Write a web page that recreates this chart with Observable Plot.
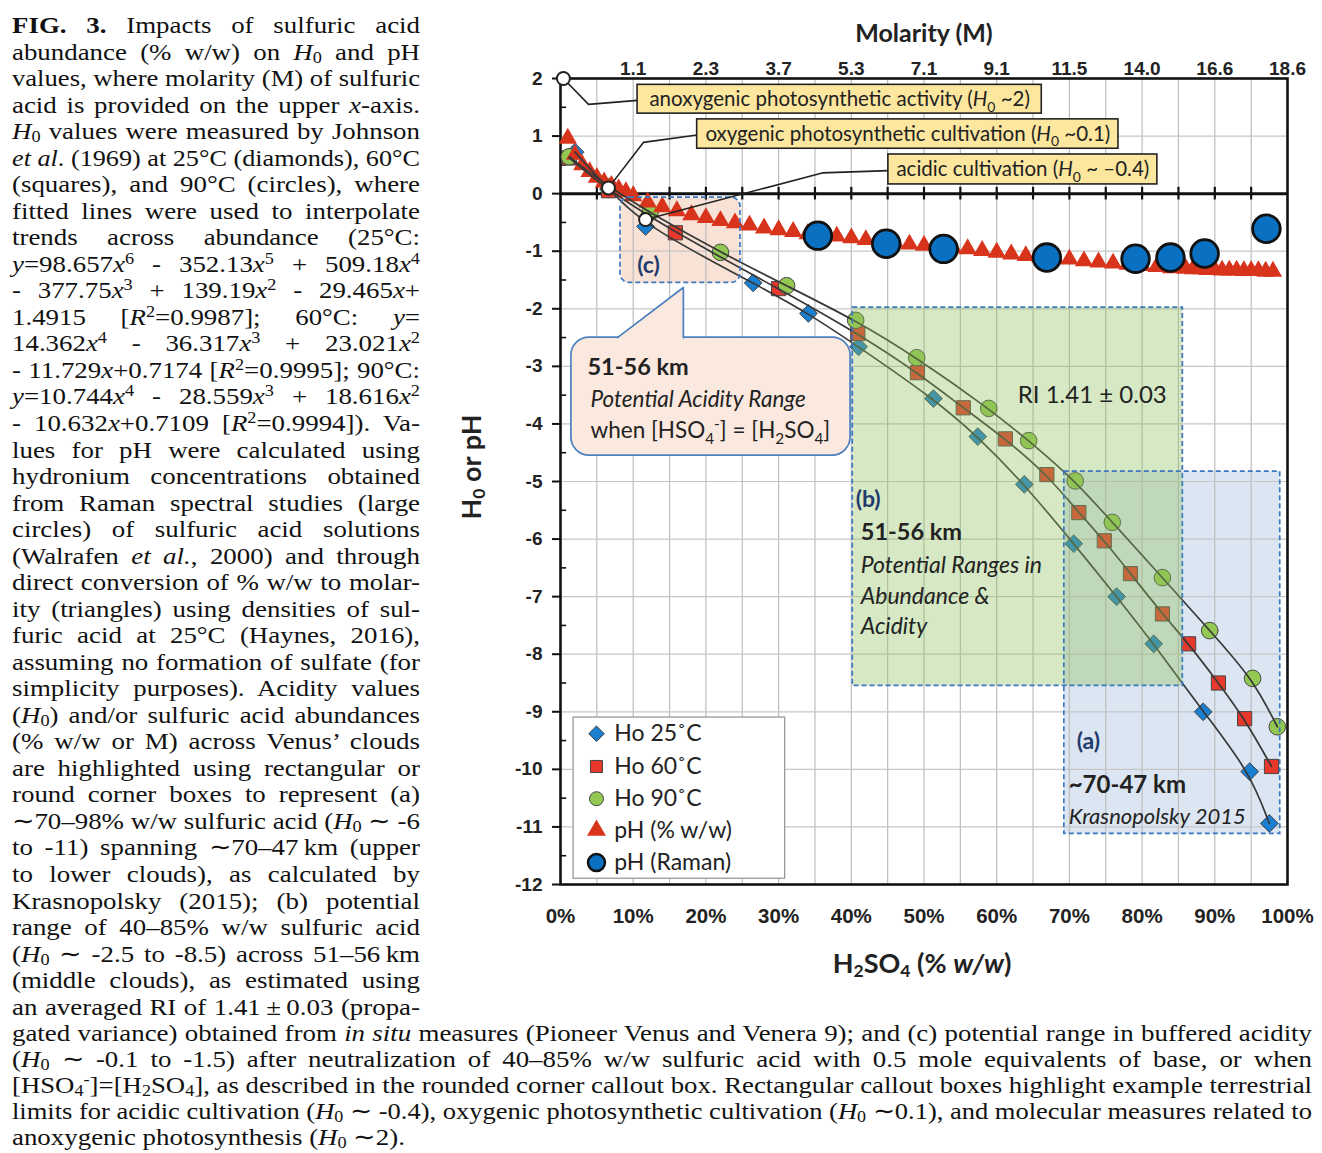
<!DOCTYPE html>
<html><head><meta charset="utf-8">
<script src="https://cdn.jsdelivr.net/npm/d3@7"></script>
<script src="https://cdn.jsdelivr.net/npm/@observablehq/plot@0.6"></script>
<style>
body{margin:0;background:#fff;}
#page{position:relative;width:1322px;height:1153px;background:#fff;}
.cap{position:absolute;left:12px;font-family:"Liberation Serif","Times New Roman",serif;font-size:24px;color:#111;}
.cap .ln{height:26.54px;line-height:26.54px;white-space:nowrap;}
#capBottom .ln{height:25.9px;line-height:25.9px;}
.cap .ln span{display:inline-block;transform-origin:0 50%;line-height:1.02;}
.cap sub{font-size:68%;vertical-align:-0.18em;line-height:0}
.cap sup{font-size:68%;vertical-align:0.48em;line-height:0}
#chart{position:absolute;left:440px;top:0;}
.title{position:absolute;font-family:Lato,sans-serif;font-weight:bold;color:#222;white-space:nowrap;line-height:1}
.title sub{font-size:65%;vertical-align:-0.25em;line-height:0}
</style></head>
<body><div id="page">
<div class="cap" id="capLeft" style="top:12px;width:408px"></div>
<div class="cap" id="capBottom" style="top:1021px;width:1300px"></div>
<div id="chart"></div>
<div class="title" style="left:924px;top:32px;font-size:25px;transform:translate(-50%,-50%)">Molarity (M)</div>
<div class="title" style="left:922px;top:962px;font-size:27px;transform:translate(-50%,-50%)">H<sub>2</sub>SO<sub>4</sub> (% <i>w/w</i>)</div>
<div class="title" style="left:470px;top:467px;font-size:27px;transform:translate(-50%,-50%) rotate(-90deg)">H<sub>0</sub> or pH</div>
</div>
<script>
// ---------------- data ----------------
const pctTicks = [0, 10, 20, 30, 40, 50, 60, 70, 80, 90, 100];
const molarityTicks = [10, 20, 30, 40, 50, 60, 70, 80, 90, 100];
const molarityLabels = ["1.1", "2.3", "3.7", "5.3", "7.1", "9.1", "11.5", "14.0", "16.6", "18.6"];
const yTicks = [-12, -11, -10, -9, -8, -7, -6, -5, -4, -3, -2, -1, 0, 1, 2];

// Ho 25 C (diamonds)
const pctHo25 = [2.0, 6.6, 11.7, 26.5, 34.1, 41.0, 51.3, 57.4, 63.8, 70.6, 76.5, 81.6, 88.4, 94.8, 97.5];
const ho25    = [0.72, 0.08, -0.57, -1.55, -2.08, -2.66, -3.56, -4.22, -5.05, -6.08, -7.00, -7.82, -9.00, -10.04, -10.94];
// Ho 60 C (squares)
const pctHo60 = [1.2, 6.6, 15.8, 30.0, 40.9, 49.1, 55.4, 61.2, 66.9, 71.3, 74.8, 78.4, 82.8, 86.4, 90.5, 94.1, 97.8];
const ho60    = [0.62, 0.05, -0.68, -1.65, -2.43, -3.11, -3.72, -4.26, -4.88, -5.54, -6.03, -6.60, -7.30, -7.82, -8.50, -9.12, -9.95];
// Ho 90 C (circles)
const pctHo90 = [1.2, 6.6, 12.3, 22.0, 31.1, 40.6, 49.0, 58.9, 64.4, 70.8, 75.9, 82.8, 89.3, 95.2, 98.6];
const ho90    = [0.64, 0.12, -0.33, -1.02, -1.60, -2.20, -2.85, -3.73, -4.29, -4.99, -5.71, -6.67, -7.59, -8.42, -9.26];
// pH (% w/w) triangles
const pctPH = [1, 2, 3, 4, 5, 6, 7, 8, 9, 10, 12, 14, 16, 18, 20, 22, 24, 26, 28, 30, 32, 34, 36, 38, 40, 42, 44, 46, 48, 50,
  52, 54, 56, 58, 60, 62, 64, 66, 68, 70, 72, 74, 76, 78, 80, 82, 84, 86, 87, 88, 89, 90, 91, 92, 93, 94, 95, 96, 97, 98];
const phWW = [0.96, 0.68, 0.50, 0.38, 0.28, 0.20, 0.14, 0.08, 0.03, -0.04,
  -0.15, -0.23, -0.30, -0.37, -0.42, -0.47, -0.51, -0.55, -0.60, -0.63,
  -0.66, -0.70, -0.72, -0.74, -0.77, -0.80, -0.83, -0.85, -0.88, -0.90,
  -0.92, -0.94, -0.96, -0.99, -1.02, -1.05, -1.08, -1.10, -1.12, -1.14,
  -1.17, -1.19, -1.21, -1.23, -1.25, -1.27, -1.29, -1.30,
  -1.31, -1.31, -1.32, -1.32, -1.33, -1.33, -1.33, -1.34, -1.34, -1.34, -1.35, -1.35];
// pH (Raman) large circles
const pctRaman = [35.4, 44.8, 52.7, 66.9, 79.1, 83.9, 88.6, 97.1];
const phRaman  = [-0.73, -0.87, -0.96, -1.11, -1.13, -1.11, -1.04, -0.61];

// reference levels (white circles) and their callout labels
const refPct = [0.4, 6.6, 11.7];
const refH0  = [2, 0.1, -0.45];
const refLabels = [
  "anoxygenic photosynthetic activity (<i>H</i><sub>0</sub> ~2)",
  "oxygenic photosynthetic cultivation (<i>H</i><sub>0</sub> ~0.1)",
  "acidic cultivation (<i>H</i><sub>0</sub> ~ \u20130.4)"
];
const legendLabels = ["Ho 25\u02DAC", "Ho 60\u02DAC", "Ho 90\u02DAC", "pH (% w/w)", "pH (Raman)"];

// ---------------- annotation layout (data coordinates) ----------------
const regionA = {x1: 69.3, x2: 99.0, y1: -4.83, y2: -11.12};
const regionB = {x1: 40.2, x2: 85.6, y1: -1.98, y2: -8.55};
const regionC = {x1: 8.25, x2: 24.76, y1: -0.07, y2: -1.55};
const callout = {x1: 1.5, x2: 39.9, y1: -2.5, y2: -4.55};
const pointerFill = [{x: 7.5, y: -2.545}, {x: 16.9, y: -1.63}, {x: 16.9, y: -2.545}];
const pointerEdge = [{x: 7.84, y: -2.5}, {x: 16.9, y: -1.63}, {x: 16.9, y: -2.5}];
const yellowBoxes = [
  {x1: 10.6, x2: 66.2, y1: 1.89, y2: 1.39},
  {x1: 18.8, x2: 76.75, y1: 1.29, y2: 0.78},
  {x1: 45.1, x2: 82.1, y1: 0.68, y2: 0.16}
];
const connectorPaths = [
  [[0.4, 2], [3.85, 1.55], [10.6, 1.62]],
  [[6.6, 0.1], [11.4, 0.89], [18.8, 1.02]],
  [[11.7, -0.45], [36.0, 0.36], [45.1, 0.40]]
];
const legendBox = {x1: 1.8, x2: 30.9, y1: -9.1, y2: -11.9, symX: 4.95, textX: 7.4,
  rows: [-9.38, -9.95, -10.51, -11.06, -11.62]};

// ---------------- build tables ----------------
const zip = (xs, ys) => xs.map((x, i) => ({x, y: ys[i]}));
const d25 = zip(pctHo25, ho25), d60 = zip(pctHo60, ho60), d90 = zip(pctHo90, ho90);
const dPH = zip(pctPH, phWW), dRaman = zip(pctRaman, phRaman), dRef = zip(refPct, refH0);
const boxes = yellowBoxes.map((b, i) => ({...b, label: refLabels[i]}));
const connectors = connectorPaths.flatMap((p, id) => p.map(([x, y]) => ({x, y, id})));
const molMap = new Map(molarityTicks.map((t, i) => [t, molarityLabels[i]]));

const C25 = "#1b7fd0", C60 = "#e8382c", C90 = "#93c852", CPH = "#d8341c", CRA = "#0a70c2";
const ink = "#222";
const navy = "#1f3a6b";
const F = "Lato, 'Open Sans', sans-serif";
const legendStyles = [
  {symbol: "diamond2", r: 7, fill: C25, stroke: "#444", sw: 1},
  {symbol: "square", r: 6.8, fill: C60, stroke: "#444", sw: 1},
  {symbol: "circle", r: 7, fill: C90, stroke: "#444", sw: 1},
  {symbol: "triangle", r: 7, fill: CPH, stroke: "none", sw: 0},
  {symbol: "circle", r: 8.5, fill: CRA, stroke: "#111", sw: 2.5}
];
const halfTicks = [-11.5, -10.5, -9.5, -8.5, -7.5, -6.5, -5.5, -4.5, -3.5, -2.5, -1.5, -0.5, 0.5, 1.5];
const gridXs = [5, 10, 15, 20, 25, 30, 35, 40, 45, 50, 55, 60, 65, 70, 75, 80, 85, 90, 95];
const gridYs = [-11, -10, -9, -8, -7, -6, -5, -4, -3, -2, -1, 1];

const rectOpts = {x1: "x1", x2: "x2", y1: "y1", y2: "y2"};
const lineOpts = {x: "x", y: "y", curve: "basis", stroke: "#383838", strokeWidth: 1.7};

const svg = Plot.plot({
  width: 882, height: 990,
  marginLeft: 120, marginRight: 35, marginTop: 78, marginBottom: 106,
  x: {domain: [0, 100]},
  y: {domain: [-12, 2]},
  style: {fontFamily: F, background: "white", overflow: "visible"},
  marks: [
    Plot.rect([regionA], {...rectOpts, fill: "#9bb8da", fillOpacity: 0.35}),
    Plot.rect([regionC], {...rectOpts, fill: "#e8ac87", fillOpacity: 0.35, rx: 9}),
    Plot.gridX(gridXs, {stroke: "#bdbdbd", strokeOpacity: 1, strokeWidth: 1.2}),
    Plot.gridY(gridYs, {stroke: "#c6c6c6", strokeOpacity: 1, strokeWidth: 1.2}),
    // axes
    Plot.axisX(pctTicks, {anchor: "bottom", tickSize: 0, tickPadding: 24, tickFormat: d => d + "%",
      fontSize: 20.5, fontWeight: "bold", fontFamily: "'Liberation Sans', Arial, sans-serif", fill: ink, label: null}),
    Plot.axisX(molarityTicks, {anchor: "top", tickSize: 0, tickPadding: 4, tickFormat: d => molMap.get(d),
      fontSize: 19, fontWeight: "bold", fontFamily: "'Liberation Sans', Arial, sans-serif", fill: ink, label: null}),
    Plot.axisY(yTicks, {anchor: "left", tickSize: 8, tickPadding: 10, tickFormat: d => String(d),
      fontSize: 19, fontWeight: "bold", fontFamily: "'Liberation Sans', Arial, sans-serif", fill: ink, stroke: "#111", strokeWidth: 2, label: null}),
    Plot.ruleY(halfTicks, {x1: 0, x2: 0.85, stroke: "#111", strokeWidth: 1.6}),
    Plot.frame({stroke: "#111", strokeWidth: 2.6}),
    Plot.ruleY([0], {stroke: "#111", strokeWidth: 3}),
    Plot.ruleX(gridXs, {y1: -0.11, y2: 0.11, stroke: "#111", strokeWidth: 2.2}),
    // Ho markers
    Plot.dot(d25, {x: "x", y: "y", symbol: "diamond2", r: 8, fill: C25, stroke: "#444", strokeWidth: 1}),
    Plot.dot(d60, {x: "x", y: "y", symbol: "square", r: 8, fill: C60, stroke: "#444", strokeWidth: 1}),
    Plot.dot(d90, {x: "x", y: "y", symbol: "circle", r: 8.3, fill: C90, stroke: "#444", strokeWidth: 1}),
    // pH triangles
    Plot.dot(dPH, {x: "x", y: "y", symbol: "triangle", r: 6.8, fill: CPH}),
    // fitted trend lines
    Plot.line(d25, lineOpts),
    Plot.line(d60, lineOpts),
    Plot.line(d90, lineOpts),
    // Raman
    Plot.dot(dRaman, {x: "x", y: "y", r: 13.8, fill: CRA, stroke: "#111", strokeWidth: 2.8}),
    // region b overlay
    Plot.rect([regionB], {...rectOpts, fill: "#8dbf5b", fillOpacity: 0.36}),
    Plot.rect([regionA, regionB], {...rectOpts, fill: "none", stroke: "#3b78c0", strokeWidth: 1.7, strokeDasharray: "5,3"}),
    Plot.rect([regionC], {...rectOpts, fill: "none", stroke: "#3b78c0", strokeWidth: 1.7, strokeDasharray: "5,3", rx: 9}),
    // callout box with pointer
    Plot.rect([callout], {...rectOpts, fill: "#fbe8de", stroke: "#4d80c0", strokeWidth: 1.7, rx: 18}),
    Plot.line(pointerFill, {x: "x", y: "y", fill: "#fbe8de", stroke: "none"}),
    Plot.line(pointerEdge, {x: "x", y: "y", stroke: "#4d80c0", strokeWidth: 1.7}),
    // connectors & yellow boxes
    Plot.line(connectors, {x: "x", y: "y", z: "id", stroke: ink, strokeWidth: 1.6}),
    Plot.rect(boxes, {...rectOpts, fill: "#fde69e", stroke: ink, strokeWidth: 1.6}),
    Plot.text(boxes, {x: d => (d.x1 + d.x2) / 2, y: d => (d.y1 + d.y2) / 2, text: "label", fontSize: 20.5, fill: ink}),
    Plot.dot(dRef, {x: "x", y: "y", r: 6.5, fill: "white", stroke: ink, strokeWidth: 2}),
    // region labels
    Plot.text(["(c)"], {x: 12.1, y: -1.25, text: d => d, fontSize: 23, fontWeight: "bold", fill: navy}),
    Plot.text(["51-56 km"], {x: 3.71, y: -3.02, text: d => d, textAnchor: "start", fontSize: 23.5, fontWeight: "bold", fill: ink}),
    Plot.text(["Potential Acidity Range"], {x: 4.13, y: -3.58, text: d => d, textAnchor: "start", fontSize: 22.5, fontStyle: "italic", fill: ink}),
    Plot.text(["when [HSO<sub>4</sub><sup>-</sup>] = [H<sub>2</sub>SO<sub>4</sub>]"], {x: 4.13, y: -4.12, text: d => d, textAnchor: "start", fontSize: 22.5, fill: ink}),
    Plot.text(["(b)"], {x: 40.6, y: -5.32, text: d => d, textAnchor: "start", fontSize: 23, fontWeight: "bold", fill: navy}),
    Plot.text(["51-56 km"], {x: 41.3, y: -5.89, text: d => d, textAnchor: "start", fontSize: 23.5, fontWeight: "bold", fill: ink}),
    Plot.text(["Potential Ranges in", "Abundance &", "Acidity"], {x: 41.3, y: (d, i) => [-6.46, -7.0, -7.52][i], text: d => d, textAnchor: "start", fontSize: 23, fontStyle: "italic", fill: ink}),
    Plot.text(["RI 1.41 \u00B1 0.03"], {x: 62.9, y: -3.51, text: d => d, textAnchor: "start", fontSize: 24, fill: ink}),
    Plot.text(["(a)"], {x: 71.0, y: -9.52, text: d => d, textAnchor: "start", fontSize: 23, fontWeight: "bold", fill: navy}),
    Plot.text(["~70-47 km"], {x: 69.9, y: -10.27, text: d => d, textAnchor: "start", fontSize: 24, fontWeight: "bold", fill: ink}),
    Plot.text(["Krasnopolsky 2015"], {x: 69.9, y: -10.82, text: d => d, textAnchor: "start", fontSize: 22, fontStyle: "italic", fill: ink}),
    // legend
    Plot.rect([legendBox], {...rectOpts, fill: "white", stroke: "#9a9a9a", strokeWidth: 1.3}),
    ...legendStyles.map((s, i) => Plot.dot([legendLabels[i]], {x: legendBox.symX, y: legendBox.rows[i], symbol: s.symbol, r: s.r, fill: s.fill, stroke: s.stroke, strokeWidth: s.sw})),
    Plot.text(legendLabels, {x: legendBox.textX, y: (d, i) => legendBox.rows[i], text: d => d, textAnchor: "start", fontSize: 23, fill: ink})
  ]
});
document.getElementById("chart").appendChild(svg);

// rich text (italic / sub / sup) inside SVG labels
function esc(s) { return s.replace(/&/g, "&amp;").replace(/</g, "&lt;").replace(/>/g, "&gt;"); }
function toTspans(s, fs) {
  const re = /<(\/?)(i|b|sub|sup)>/g;
  const st = {i: 0, b: 0, sub: 0, sup: 0};
  let last = 0, cur = 0, out = "", m;
  const emit = txt => {
    if (!txt) return;
    const target = st.sub ? fs * 0.28 : st.sup ? -fs * 0.4 : 0;
    const dy = target - cur; cur = target;
    let a = "";
    if (dy) a += ` dy="${dy.toFixed(2)}"`;
    if (st.i) a += ` font-style="italic"`;
    if (st.b) a += ` font-weight="bold"`;
    if (st.sub || st.sup) a += ` font-size="${(fs * 0.68).toFixed(2)}"`;
    out += `<tspan${a}>${esc(txt)}</tspan>`;
  };
  while ((m = re.exec(s))) { emit(s.slice(last, m.index)); st[m[2]] = m[1] ? 0 : 1; last = re.lastIndex; }
  emit(s.slice(last));
  return out;
}
svg.querySelectorAll("text").forEach(t => {
  const targets = t.querySelector("tspan") ? Array.from(t.querySelectorAll("tspan")) : [t];
  targets.forEach(el => {
    const s = el.textContent;
    if (s.indexOf("<") < 0) return;
    const fs = parseFloat(getComputedStyle(el).fontSize) || 16;
    el.innerHTML = toTspans(s, fs);
  });
});

// ---------------- caption ----------------
const capLeftLines = [
  "<b>FIG. 3.</b> Impacts of sulfuric acid",
  "abundance (% w/w) on <i>H</i><sub>0</sub> and pH",
  "values, where molarity (M) of sulfuric",
  "acid is provided on the upper <i>x</i>-axis.",
  "<i>H</i><sub>0</sub> values were measured by Johnson",
  "<i>et al</i>. (1969) at 25°C (diamonds), 60°C",
  "(squares), and 90°C (circles), where",
  "fitted lines were used to interpolate",
  "trends across abundance (25°C:",
  "<i>y</i>=98.657<i>x</i><sup>6</sup> - 352.13<i>x</i><sup>5</sup> + 509.18<i>x</i><sup>4</sup>",
  "- 377.75<i>x</i><sup>3</sup> + 139.19<i>x</i><sup>2</sup> - 29.465<i>x</i>+",
  "1.4915 [<i>R</i><sup>2</sup>=0.9987]; 60°C: <i>y</i>=",
  "14.362<i>x</i><sup>4</sup> - 36.317<i>x</i><sup>3</sup> + 23.021<i>x</i><sup>2</sup>",
  "- 11.729<i>x</i>+0.7174 [<i>R</i><sup>2</sup>=0.9995]; 90°C:",
  "<i>y</i>=10.744<i>x</i><sup>4</sup> - 28.559<i>x</i><sup>3</sup> + 18.616<i>x</i><sup>2</sup>",
  "- 10.632<i>x</i>+0.7109 [<i>R</i><sup>2</sup>=0.9994]). Va-",
  "lues for pH were calculated using",
  "hydronium concentrations obtained",
  "from Raman spectral studies (large",
  "circles) of sulfuric acid solutions",
  "(Walrafen <i>et al.</i>, 2000) and through",
  "direct conversion of % w/w to molar-",
  "ity (triangles) using densities of sul-",
  "furic acid at 25°C (Haynes, 2016),",
  "assuming no formation of sulfate (for",
  "simplicity purposes). Acidity values",
  "(<i>H</i><sub>0</sub>) and/or sulfuric acid abundances",
  "(% w/w or M) across Venus\u2019 clouds",
  "are highlighted using rectangular or",
  "round corner boxes to represent (a)",
  "\u223C70\u201398% w/w sulfuric acid (<i>H</i><sub>0</sub> \u223C -6",
  "to -11) spanning \u223C70\u201347\u2009km (upper",
  "to lower clouds), as calculated by",
  "Krasnopolsky (2015); (b) potential",
  "range of 40\u201385% w/w sulfuric acid",
  "(<i>H</i><sub>0</sub> \u223C -2.5 to -8.5) across 51\u201356\u2009km",
  "(middle clouds), as estimated using",
  "an averaged RI of 1.41\u2009\u00B1\u20090.03 (propa-"
];
const capBottomLines = [
  "gated variance) obtained from <i>in situ</i> measures (Pioneer Venus and Venera 9); and (c) potential range in buffered acidity",
  "(<i>H</i><sub>0</sub> \u223C -0.1 to -1.5) after neutralization of 40\u201385% w/w sulfuric acid with 0.5 mole equivalents of base, or when",
  "[HSO<sub>4</sub><sup>-</sup>]=[H<sub>2</sub>SO<sub>4</sub>], as described in the rounded corner callout box. Rectangular callout boxes highlight example terrestrial",
  "limits for acidic cultivation (<i>H</i><sub>0</sub> \u223C -0.4), oxygenic photosynthetic cultivation (<i>H</i><sub>0</sub> \u223C0.1), and molecular measures related to",
  "anoxygenic photosynthesis (<i>H</i><sub>0</sub> \u223C2)."
];
function layoutCaption(el, width, lines, stretch, lastFree) {
  lines.forEach((html, i) => {
    const div = document.createElement("div");
    div.className = "ln";
    const span = document.createElement("span");
    span.innerHTML = html;
    div.appendChild(span);
    el.appendChild(div);
    const w = span.getBoundingClientRect().width;
    const spaces = (span.textContent.match(/ /g) || []).length;
    const free = lastFree && i === lines.length - 1;
    let k = stretch;
    if (!free && w * k > width) k = width / w;
    if (!free && spaces) span.style.wordSpacing = ((width / k - w) / spaces) + "px";
    span.style.transform = `scaleX(${k})`;
  });
}
layoutCaption(document.getElementById("capLeft"), 408, capLeftLines, 1.12, false);
layoutCaption(document.getElementById("capBottom"), 1300, capBottomLines, 1.12, true);
</script>
</body></html>
